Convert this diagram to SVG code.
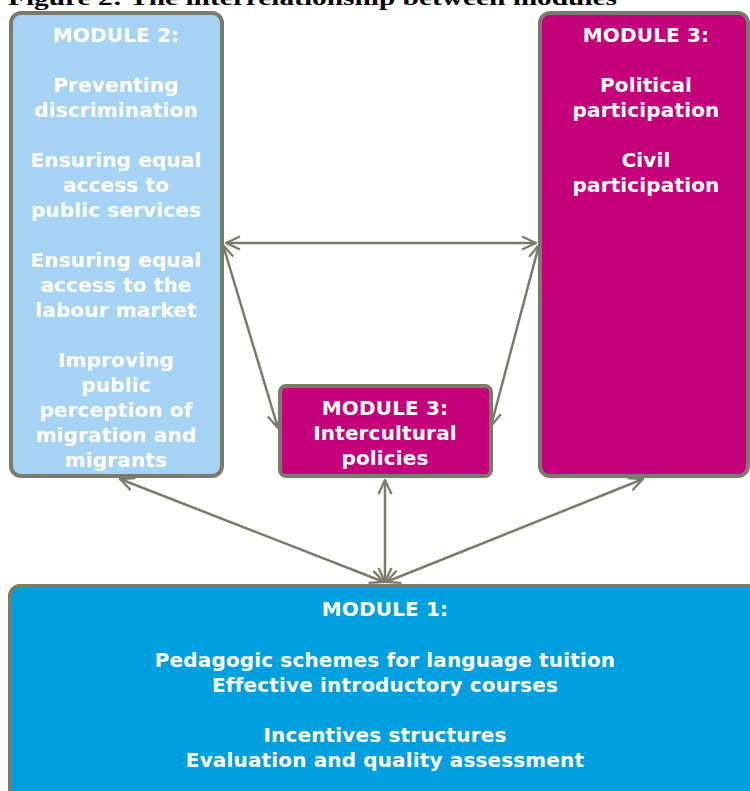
<svg xmlns="http://www.w3.org/2000/svg" width="750" height="791" viewBox="0 0 750 791">
<style>
.box{stroke:#7b7b6b;stroke-width:4}
.t{font-family:"DejaVu Sans",Verdana,sans-serif;font-weight:bold;font-size:20px;fill:#ffffff;text-anchor:middle;letter-spacing:0.15px}
.c{stroke:#7b7b6b;stroke-width:2.5;fill:none}
</style>
<defs>
<marker id="ah" viewBox="0 0 16 16" refX="15" refY="8" markerWidth="16" markerHeight="16" markerUnits="userSpaceOnUse" orient="auto-start-reverse">
<path d="M1,1.5 L15,8 L1,14.5" fill="none" stroke="#7b7b6b" stroke-width="2.3"/>
</marker>
</defs>
<rect width="750" height="791" fill="#ffffff"/>
<text x="8" y="5" font-family="Liberation Serif,serif" font-weight="bold" font-size="22" fill="#000" textLength="609" lengthAdjust="spacingAndGlyphs">Figure 2: The interrelationship between modules</text>
<g id="connectors">
<line class="c" x1="226" y1="243" x2="536" y2="243" marker-start="url(#ah)" marker-end="url(#ah)"/>
<line class="c" x1="223" y1="245" x2="278" y2="428" marker-start="url(#ah)" marker-end="url(#ah)"/>
<line class="c" x1="539" y1="245" x2="491" y2="426" marker-start="url(#ah)" marker-end="url(#ah)"/>
<line class="c" x1="385" y1="582" x2="385" y2="480" marker-start="url(#ah)" marker-end="url(#ah)"/>
<line class="c" x1="384" y1="582" x2="120" y2="479" marker-start="url(#ah)" marker-end="url(#ah)"/>
<line class="c" x1="386" y1="582" x2="643" y2="479" marker-start="url(#ah)" marker-end="url(#ah)"/>
</g>
<g id="module2">
<rect class="box" x="11" y="13" width="211" height="463" rx="10" fill="#a6d3f4"/>
<text class="t" x="116"><tspan x="116" y="42">MODULE 2:</tspan><tspan x="116" y="92">Preventing</tspan><tspan x="116" y="117">discrimination</tspan><tspan x="116" y="167">Ensuring equal</tspan><tspan x="116" y="192">access to</tspan><tspan x="116" y="217">public services</tspan><tspan x="116" y="267">Ensuring equal</tspan><tspan x="116" y="292">access to the</tspan><tspan x="116" y="317">labour market</tspan><tspan x="116" y="367">Improving</tspan><tspan x="116" y="392">public</tspan><tspan x="116" y="417">perception of</tspan><tspan x="116" y="442">migration and</tspan><tspan x="116" y="467">migrants</tspan></text>
</g>
<g id="module3-participation">
<rect class="box" x="540" y="13" width="208" height="463" rx="10" fill="#c4007a"/>
<text class="t"><tspan x="646" y="42">MODULE 3:</tspan><tspan x="646" y="92">Political</tspan><tspan x="646" y="117">participation</tspan><tspan x="646" y="167">Civil</tspan><tspan x="646" y="192">participation</tspan></text>
</g>
<g id="module3-intercultural">
<rect class="box" x="280" y="386" width="211" height="90" rx="6" fill="#c4007a"/>
<text class="t"><tspan x="385" y="415">MODULE 3:</tspan><tspan x="385" y="440">Intercultural</tspan><tspan x="385" y="465">policies</tspan></text>
</g>
<g id="module1">
<rect class="box" x="10" y="586" width="770" height="230" rx="10" fill="#009fe0"/>
<text class="t"><tspan x="385" y="616">MODULE 1:</tspan><tspan x="385" y="667">Pedagogic schemes for language tuition</tspan><tspan x="385" y="692">Effective introductory courses</tspan><tspan x="385" y="742">Incentives structures</tspan><tspan x="385" y="767">Evaluation and quality assessment</tspan></text>
</g>
</svg>
